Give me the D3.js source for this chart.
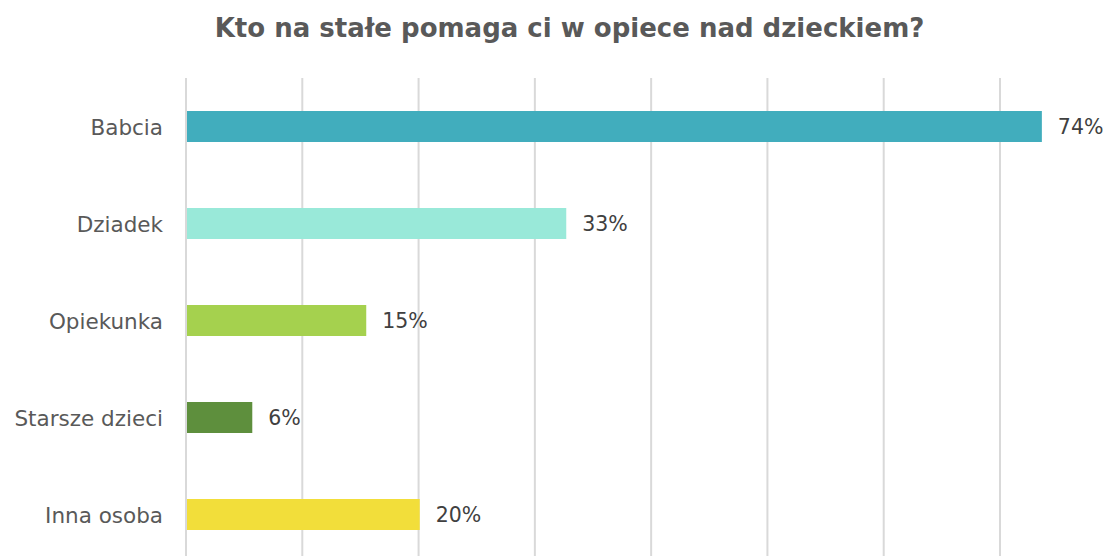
<!DOCTYPE html>
<html>
<head>
<meta charset="utf-8">
<script src="https://cdn.jsdelivr.net/npm/d3@7"></script>
<style>
  body { margin: 0; background: #fff; }
  svg { display: block; font-family: "DejaVu Sans", sans-serif; }
</style>
</head>
<body>
<svg></svg>
<script>
// data
const categories = ["Babcia", "Dziadek", "Opiekunka", "Starsze dzieci", "Inna osoba"];
const values = [73.6, 32.7, 15.5, 5.7, 20.1];
const valueLabels = ["74%", "33%", "15%", "6%", "20%"];
const colors = ["#41ADBD", "#99E9D9", "#A5D14E", "#5E8F3D", "#F2DE3A"];
const gridTicks = [0, 10, 20, 30, 40, 50, 60, 70];

let svgWidth = 1107;
let svgHeight = 556;
let svg = d3.select("svg")
    .attr("width", svgWidth)
    .attr("height", svgHeight)

let xScale = d3.scaleLinear()
    .domain([0, 70])
    .range([186, 1000])

let yScale = d3.scalePoint()
    .domain(categories)
    .range([78, 563])
    .padding(0.5)

let barHeight = 31;

// gridlines
svg.append("g")
    .selectAll("line")
    .data(gridTicks)
    .enter()
    .append("line")
    .attr("x1", d => xScale(d))
    .attr("x2", d => xScale(d))
    .attr("y1", 78)
    .attr("y2", svgHeight)
    .attr("stroke", "#D9D9D9")
    .attr("stroke-width", 2)

// bars
svg.append("g")
    .selectAll("rect")
    .data(values)
    .enter()
    .append("rect")
    .attr("x", xScale(0) + 1)
    .attr("y", (d, i) => yScale(categories[i]) - barHeight / 2)
    .attr("width", d => xScale(d) - xScale(0) - 1)
    .attr("height", barHeight)
    .attr("fill", (d, i) => colors[i])

// value labels
svg.append("g")
    .selectAll("text")
    .data(values)
    .enter()
    .append("text")
    .attr("x", d => xScale(d) + 16)
    .attr("y", (d, i) => yScale(categories[i]) + 7.5)
    .style("font-size", "20.5px")
    .style("fill", "#404040")
    .text((d, i) => valueLabels[i])

// category labels
let yAxis = d3.axisLeft(yScale).tickSize(0).tickPadding(23)
let yAxisGroup = svg.append("g")
    .attr("transform", `translate(${xScale(0)}, 0)`)
    .call(yAxis)
yAxisGroup.select(".domain").remove()
yAxisGroup.selectAll("text")
    .attr("dy", null)
    .attr("y", 7.5)
    .style("font-family", "\"DejaVu Sans\", sans-serif")
    .style("font-size", "21.5px")
    .style("fill", "#595959")

// title
svg.append("text")
    .attr("x", 569.5)
    .attr("y", 37)
    .attr("text-anchor", "middle")
    .style("font-size", "26px")
    .style("font-weight", "bold")
    .style("fill", "#595959")
    .text("Kto na stałe pomaga ci w opiece nad dzieckiem?")
</script>
</body>
</html>
